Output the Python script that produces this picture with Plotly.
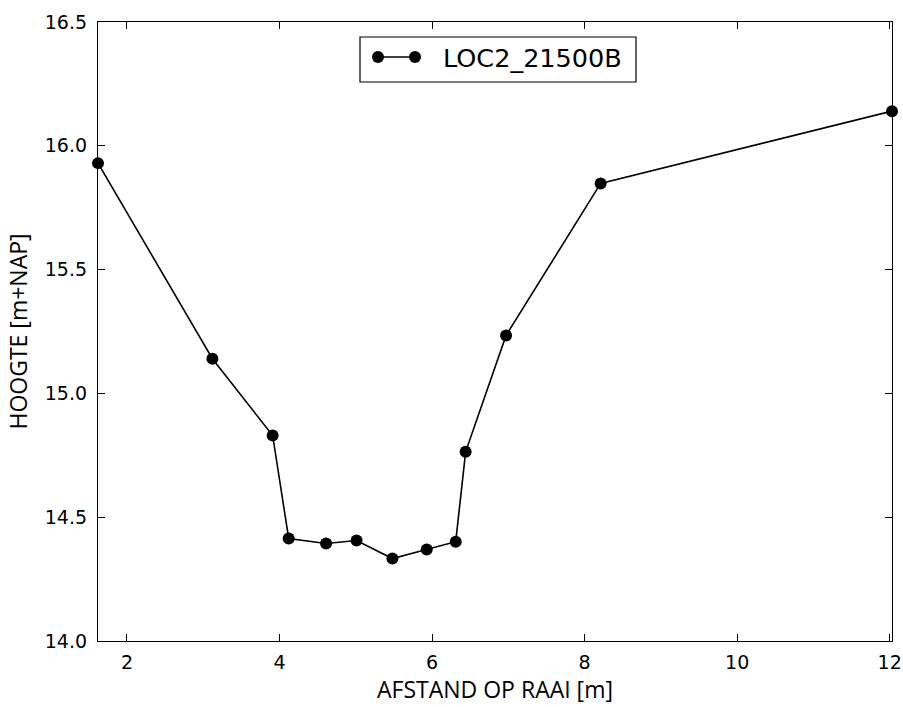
import plotly.graph_objects as go

afstand = [1.62, 3.12, 3.91, 4.12, 4.61, 5.01, 5.48, 5.93, 6.31, 6.44, 6.97, 8.21, 12.03]
hoogte = [15.930, 15.140, 14.830, 14.414, 14.394, 14.406, 14.333, 14.370, 14.401, 14.764, 15.234, 15.848, 16.140]
series_name = "LOC2_21500B"
x_ticks = [2, 4, 6, 8, 10, 12]
y_ticks = [14.0, 14.5, 15.0, 15.5, 16.0, 16.5]

FONT = "DejaVu Sans"
TITLE_FONT = "Open Sans"

fig = go.Figure()
fig.add_trace(go.Scatter(
    x=afstand, y=hoogte, mode="lines+markers", name=series_name,
    line=dict(color="black", width=1.6),
    marker=dict(color="black", size=12),
    cliponaxis=False, showlegend=False,
))

# manual matplotlib-style legend (box, line with two end markers, text)
W, H = 903, 707
L, R, T, B = 98, 11, 22, 66
pw, ph = W - L - R, H - T - B
def px(x):
    return (x - L) / pw
def py(y):
    return (H - B - y) / ph

fig.add_shape(type="rect", xref="paper", yref="paper",
              x0=px(360), x1=px(636), y0=py(82), y1=py(37),
              line=dict(color="black", width=1.2), fillcolor="white", layer="above")
fig.add_shape(type="line", xref="paper", yref="paper",
              x0=px(378), x1=px(415), y0=py(57), y1=py(57),
              line=dict(color="black", width=1.6), layer="above")
for cx in (378, 415):
    fig.add_shape(type="circle", xref="paper", yref="paper",
                  x0=px(cx - 6), x1=px(cx + 6), y0=py(57 + 6), y1=py(57 - 6),
                  line=dict(color="black", width=0), fillcolor="black", layer="above")
fig.add_annotation(xref="paper", yref="paper", x=px(441), y=py(58),
                   text=series_name, showarrow=False, xanchor="left", yanchor="middle",
                   font=dict(family=FONT, size=25.5, color="black"))

axis_common = dict(
    showline=True, linecolor="black", linewidth=1.3, mirror="ticks",
    ticks="inside", ticklen=7, tickwidth=1, tickcolor="black",
    showgrid=False, zeroline=False, ticklabeloverflow="allow", automargin=False,
    tickfont=dict(family=FONT, size=19, color="black"),
)
fig.update_xaxes(range=[1.62, 12.03], tickvals=x_ticks, ticktext=[str(v) for v in x_ticks],
                 title=dict(text="AFSTAND OP RAAI [m]", font=dict(family=TITLE_FONT, size=23, color="black"), standoff=6),
                 ticklabelstandoff=4, **axis_common)
fig.update_yaxes(range=[14.0, 16.5], tickvals=y_ticks, ticktext=[f"{v:.1f}" for v in y_ticks],
                 title=dict(text="HOOGTE [m+NAP]", font=dict(family=TITLE_FONT, size=23, color="black"), standoff=10),
                 ticklabelstandoff=6, **axis_common)
fig.update_layout(
    width=W, height=H, autosize=False,
    margin=dict(l=L, r=R, t=T, b=B),
    paper_bgcolor="white", plot_bgcolor="white",
    font=dict(family=FONT, color="black"),
)
fig.write_html("out.html")
